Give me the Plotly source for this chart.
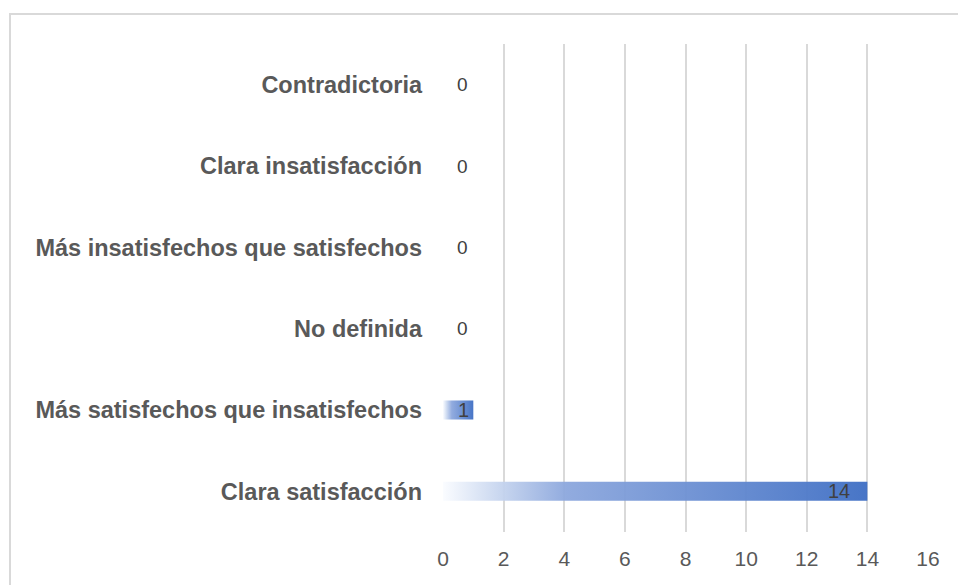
import plotly.graph_objects as go

categories = ["Clara satisfacción", "Más satisfechos que insatisfechos", "No definida",
              "Más insatisfechos que satisfechos", "Clara insatisfacción", "Contradictoria"]
values = [14, 1, 0, 0, 0, 0]
x_ticks = [0, 2, 4, 6, 8, 10, 12, 14, 16]

BAR_HALF = 0.117
grad = [[0, "rgba(250,252,255,0.95)"], [0.14, "rgba(196,211,238,0.95)"],
        [0.29, "rgba(140,167,221,0.95)"], [1, "rgba(66,113,197,0.97)"]]
FONT = "Liberation Sans, Arial"

fig = go.Figure()
for i, v in enumerate(values):
    if v <= 0:
        continue
    xs = [0, v, v, 0, 0]
    ys = [i - BAR_HALF, i - BAR_HALF, i + BAR_HALF, i + BAR_HALF, i - BAR_HALF]
    fig.add_trace(go.Scatter(
        x=xs, y=ys, mode="lines", fill="toself",
        fillgradient=dict(type="horizontal", colorscale=grad),
        line=dict(width=0), hoverinfo="skip", showlegend=False))

annotations = []
for i, v in enumerate(values):
    if v > 0:
        annotations.append(dict(x=v, y=i, text=str(v), showarrow=False, xanchor="right",
                                xshift=-15 if v > 2 else -2,
                                font=dict(family=FONT, size=20, color="#404040")))
    else:
        annotations.append(dict(x=0, y=i, text=str(v), showarrow=False, xanchor="left",
                                xshift=12,
                                font=dict(family=FONT, size=19, color="#404040")))

fig.update_layout(
    width=958, height=585,
    margin=dict(l=443, r=30, t=44, b=53),
    paper_bgcolor="white", plot_bgcolor="white",
    annotations=annotations,
    shapes=[dict(type="rect", xref="paper", yref="paper",
                 x0=-0.8928, x1=1.3, y0=-0.3, y1=1.0615,
                 line=dict(color="#d9d9d9", width=2), layer="below")],
    xaxis=dict(range=[0, 16], tickvals=x_ticks, showgrid=True, gridcolor="#d9d9d9", gridwidth=2,
               zeroline=False, showline=False, ticks="",
               ticklabelstandoff=12,
               tickfont=dict(family=FONT, size=21, color="#595959"),
               fixedrange=True),
    yaxis=dict(range=[-0.5, 5.5], tickvals=list(range(len(categories))),
               ticktext=["<b>%s</b>" % c for c in categories],
               showgrid=False, zeroline=False, showline=False, ticks="",
               ticklabelstandoff=20,
               tickfont=dict(family=FONT, size=23.5, color="#595959"),
               fixedrange=True),
)

fig.write_html("out.html", config={"displayModeBar": False},
               post_script="document.body.style.margin='0';")
